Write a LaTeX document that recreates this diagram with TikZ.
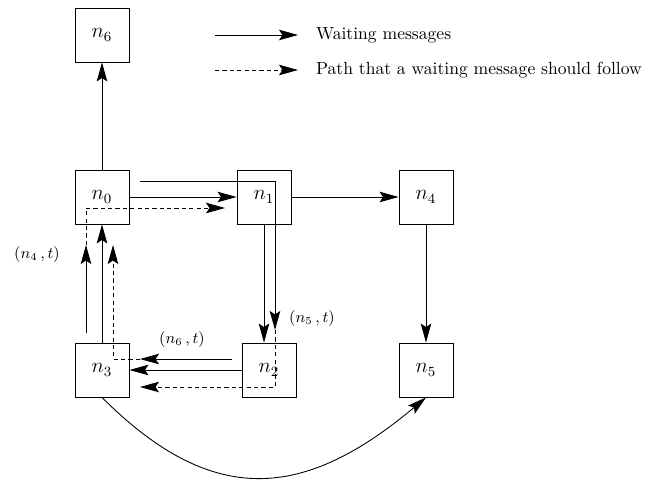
\documentclass[tikz,border=0pt]{standalone}
\usepackage{tikz}
\usetikzlibrary{arrows.meta}
\tikzset{
  node-box/.style={draw,rectangle,minimum size=10.8mm,inner sep=0pt,line width=0.5pt,font=\large},
  wait/.style={-{Stealth[length=3.8mm,width=2.1mm,inset=0.7mm]},line width=0.5pt},
  follow/.style={wait,dash pattern=on 2.4pt off 1.8pt},
  tag/.style={font=\small},
}

\begin{document}
\begin{tikzpicture}[x=0.2mm,y=0.2mm]

  \useasboundingbox (0,0) rectangle (652,481);

  % legend
  \coordinate (lg1a) at (215,446);
  \coordinate (lg1b) at (298,446);
  \coordinate (lg2a) at (215,411);
  \coordinate (lg2b) at (298,411);
  \draw[wait]   (lg1a) -- (lg1b);
  \draw[follow] (lg2a) -- (lg2b);
  \node[anchor=west] (lgt1) at (310,446) {Waiting messages};
  \node[anchor=west] (lgt2) at (310,411) {Path that a waiting message should follow};

  % nodes
  \node[node-box] (n6) at (102,446) {$n_6$};
  \node[node-box] (n0) at (102,284) {$n_0$};
  \node[node-box] (n1) at (264,284) {$n_1$};
  \node[node-box] (n4) at (426,284) {$n_4$};
  \node[node-box] (n3) at (102,111) {$n_3$};
  \node[node-box] (n2) at (269,111) {$n_2$};
  \node[node-box] (n5) at (426,111) {$n_5$};

  % plain links
  \draw[wait] (n0.north) -- (n6.south);
  \draw[wait] (n0.east)  -- (n1.west);
  \draw[wait] (n1.east)  -- (n4.west);
  \draw[wait] (n4.south) -- (n5.north);
  \draw[wait] (n1.south) -- (n1.south |- n2.north);
  \draw[wait] (n2.west)  -- (n3.east);
  \draw[wait] (n3.north) -- (n0.south);
  \draw[wait] (n3.south) to[out=-45,in=-140,looseness=1.25] (n5.south);

  % waiting message (n5,t)
  \coordinate (m5a) at (140,300);
  \coordinate (m5b) at (275,151);
  \coordinate (m5d) at (140,94);
  \draw[wait] (m5a) -| (m5b);
  \draw[follow] (m5b) |- (m5d);
  \node[tag,anchor=west] (t5) at (283,162) {$(n_5\,,t)$};

  % waiting message (n6,t)
  \coordinate (m6a) at (232,122);
  \coordinate (m6b) at (140,122);
  \coordinate (m6c) at (113,236);
  \draw[wait] (m6a) -- (m6b);
  \draw[follow] (m6b) -| (m6c);
  \node[tag] (t6) at (182,141) {$(n_6\,,t)$};

  % waiting message (n4,t)
  \coordinate (m4a) at (86,148);
  \coordinate (m4b) at (86,236);
  \coordinate (m4c) at (225,273);
  \draw[wait] (m4a) -- (m4b);
  \draw[follow] (m4b) |- (m4c);
  \node[tag] (t4) at (37,226) {$(n_4\,,t)$};

\end{tikzpicture}
\end{document}
